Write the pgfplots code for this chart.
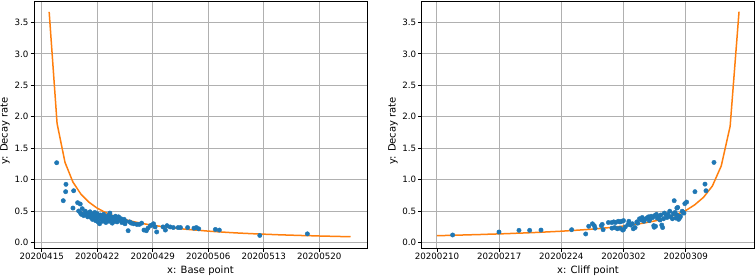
\documentclass[border=0pt]{standalone}
\usepackage{fontspec}
\setmainfont{DejaVu Sans}
\usepackage{pgfplots}
\pgfplotsset{compat=1.18}
\definecolor{mplblue}{HTML}{1F77B4}
\definecolor{mplorange}{HTML}{FF7F0E}
\definecolor{mplgrid}{HTML}{B0B0B0}
\newcommand\tfont{\fontsize{8.7}{10}\selectfont}
\newcommand\lfont{\fontsize{9.2}{11}\selectfont}
\pgfplotsset{
  mpl/.style={
    scale only axis, anchor=south west, height=247pt,
    ymin=-0.085, ymax=3.84,
    ytick={0,0.5,1,1.5,2,2.5,3,3.5},
    yticklabels={0.0,0.5,1.0,1.5,2.0,2.5,3.0,3.5},
    grid=major, grid style={mplgrid, line width=1pt},
    axis line style={line width=0.8pt},
    tick style={black, line width=0.8pt},
    major tick length=3.5pt, tick align=outside,
    xtick pos=bottom, ytick pos=left,
    tick label style={font=\tfont},
    label style={font=\lfont},
    xticklabel style={yshift=2pt},
    yticklabel style={xshift=1.5pt},
    every axis y label/.style={at={(axis description cs:-0.087,0.474)}, rotate=90, anchor=center},
    every axis x label/.style={at={(axis description cs:0.5,-0.094)}, anchor=center},
    clip=true,
  },
  pts/.style={only marks, mark=*, mark size=2.2pt, mplblue, mark options={draw=mplblue, fill=mplblue}},
  crv/.style={mplorange, line width=1.5pt, no marks},
}
\begin{document}
\begin{tikzpicture}[x=1pt,y=1pt]
\path[use as bounding box] (0,0) rectangle (755,277);
\begin{axis}[mpl, at={(34pt,29pt)}, width=333pt,
  xmin=-0.971, xmax=41.02,
  xtick={0,7,14,21,28,35},
  xticklabels={20200415,20200422,20200429,20200506,20200513,20200520},
  xlabel={x: Base point}, ylabel={y: Decay rate}]
\addplot[pts] coordinates {
(1.89,1.27) (3.06,0.927) (3.02,0.81) (2.72,0.667) (4.03,0.825) (3.94,0.55)
(4.53,0.635) (4.86,0.614) (4.66,0.503) (5.11,0.54) (4.90,0.47) (5.0,0.45)
(5.2,0.45) (5.3,0.43) (5.5,0.50) (5.6,0.44) (5.8,0.41) (5.9,0.47) (6.0,0.43)
(6.1,0.49) (6.2,0.40) (6.3,0.46) (6.4,0.37) (6.5,0.44) (6.6,0.41) (6.7,0.48)
(6.8,0.35) (6.9,0.43) (7.0,0.39) (7.0,0.46) (7.1,0.33) (7.2,0.42) (7.3,0.30)
(7.4,0.44) (7.5,0.37) (7.6,0.40) (7.7,0.34) (7.8,0.45) (7.9,0.38) (8.0,0.42)
(8.1,0.32) (8.2,0.39) (8.3,0.36) (8.4,0.43) (8.5,0.34) (8.6,0.47) (8.7,0.38)
(8.8,0.41) (8.9,0.31) (9.0,0.36) (9.1,0.40) (9.2,0.34) (9.3,0.42) (9.4,0.37)
(9.5,0.33) (9.6,0.39) (9.7,0.41) (9.8,0.36) (10.0,0.38) (10.1,0.32) (10.2,0.35)
(10.4,0.37) (10.5,0.30) (10.6,0.34) (10.9,0.19) (11.1,0.33) (11.3,0.31)
(11.6,0.30) (12.0,0.29) (12.3,0.29) (12.6,0.31) (12.9,0.20) (13.2,0.19)
(13.4,0.23) (13.7,0.27) (13.9,0.28) (14.1,0.30) (14.3,0.25) (14.5,0.17)
(15.3,0.25) (15.6,0.20) (15.8,0.27) (16.2,0.25) (16.6,0.24) (17.2,0.24)
(17.5,0.24) (18.4,0.24) (19.2,0.23) (19.5,0.24) (19.8,0.22) (21.9,0.21)
(22.4,0.20) (27.5,0.115) (33.5,0.14)
};
\addplot[crv] coordinates {
(0.94,3.668) (1.94,1.893) (2.94,1.275) (3.94,0.962) (4.94,0.772) (5.94,0.645)
(6.94,0.553) (7.94,0.485) (8.94,0.431) (9.94,0.388) (10.94,0.353) (11.94,0.324)
(12.94,0.299) (13.94,0.278) (14.94,0.260) (15.94,0.243) (16.94,0.229)
(17.94,0.216) (18.94,0.205) (19.94,0.195) (20.94,0.184) (21.94,0.175)
(22.94,0.167) (23.94,0.159) (24.94,0.152) (25.94,0.146) (26.94,0.140)
(27.94,0.135) (28.94,0.130) (29.94,0.125) (30.94,0.121) (31.94,0.117)
(32.94,0.113) (33.94,0.110) (34.94,0.106) (35.94,0.103) (36.94,0.100)
(37.94,0.097) (38.94,0.094)
};
\end{axis}
\begin{axis}[mpl, at={(421.7pt,29pt)}, width=332.6pt,
  xmin=-1.72, xmax=35.72,
  xtick={0,7,14,21,28},
  xticklabels={20200210,20200217,20200224,20200302,20200309},
  xlabel={x: Cliff point}, ylabel={y: Decay rate},
  every axis y label/.style={at={(axis description cs:-0.086,0.474)}, rotate=90, anchor=center}]
\addplot[pts] coordinates {
(1.76,0.122) (6.98,0.169) (9.23,0.196) (10.43,0.196) (11.71,0.200) (15.16,0.206)
(16.74,0.138) (17.08,0.26) (17.5,0.30) (17.7,0.27) (17.8,0.23) (18.5,0.27)
(18.6,0.29) (18.7,0.206) (19.3,0.32) (19.67,0.32) (19.9,0.33) (20.1,0.32)
(20.4,0.34) (20.6,0.33) (20.8,0.34) (21.0,0.35) (19.7,0.23) (20.0,0.24)
(20.3,0.22) (20.6,0.23) (20.9,0.20) (21.0,0.21) (21.2,0.25) (21.5,0.29)
(21.6,0.34) (21.8,0.28) (22.0,0.30) (22.1,0.22) (22.3,0.24) (22.5,0.33)
(22.6,0.31) (22.8,0.38) (23.0,0.36) (23.1,0.40) (23.3,0.34) (23.4,0.37)
(23.6,0.39) (23.8,0.41) (23.9,0.35) (24.0,0.38) (24.1,0.42) (24.3,0.40)
(24.4,0.27) (24.5,0.43) (24.7,0.45) (24.8,0.39) (25.0,0.42) (25.1,0.36)
(25.2,0.44) (25.3,0.28) (25.4,0.24) (25.5,0.38) (25.6,0.47) (25.8,0.43)
(25.9,0.40) (26.0,0.45) (26.2,0.50) (26.3,0.41) (26.5,0.38) (26.6,0.46)
(26.8,0.48) (27.0,0.44) (27.1,0.56) (27.2,0.37) (27.4,0.42) (27.6,0.50)
(27.8,0.47) (26.7,0.667) (27.0,0.55) (27.2,0.42) (26.9,0.39) (27.7,0.487)
(27.9,0.62) (28.1,0.645) (27.36,0.40) (29.04,0.81) (30.17,0.93) (30.28,0.825)
(31.18,1.275) (24.6,0.26) (24.45,0.245)
};
\addplot[crv] coordinates {
(0,0.110) (1,0.114) (2,0.118) (3,0.122) (4,0.126) (5,0.130) (6,0.135) (7,0.139)
(8,0.144) (9,0.150) (10,0.155) (11,0.161) (12,0.168) (13,0.175) (14,0.182)
(15,0.191) (16,0.200) (17,0.210) (18,0.221) (19,0.234) (20,0.248) (21,0.264)
(22,0.283) (23,0.305) (24,0.33) (25,0.36) (26,0.40) (27,0.45) (28,0.51)
(29,0.60) (30,0.72) (31,0.90) (32,1.22) (33,1.85) (34,3.67)
};
\end{axis}
\end{tikzpicture}
\end{document}
